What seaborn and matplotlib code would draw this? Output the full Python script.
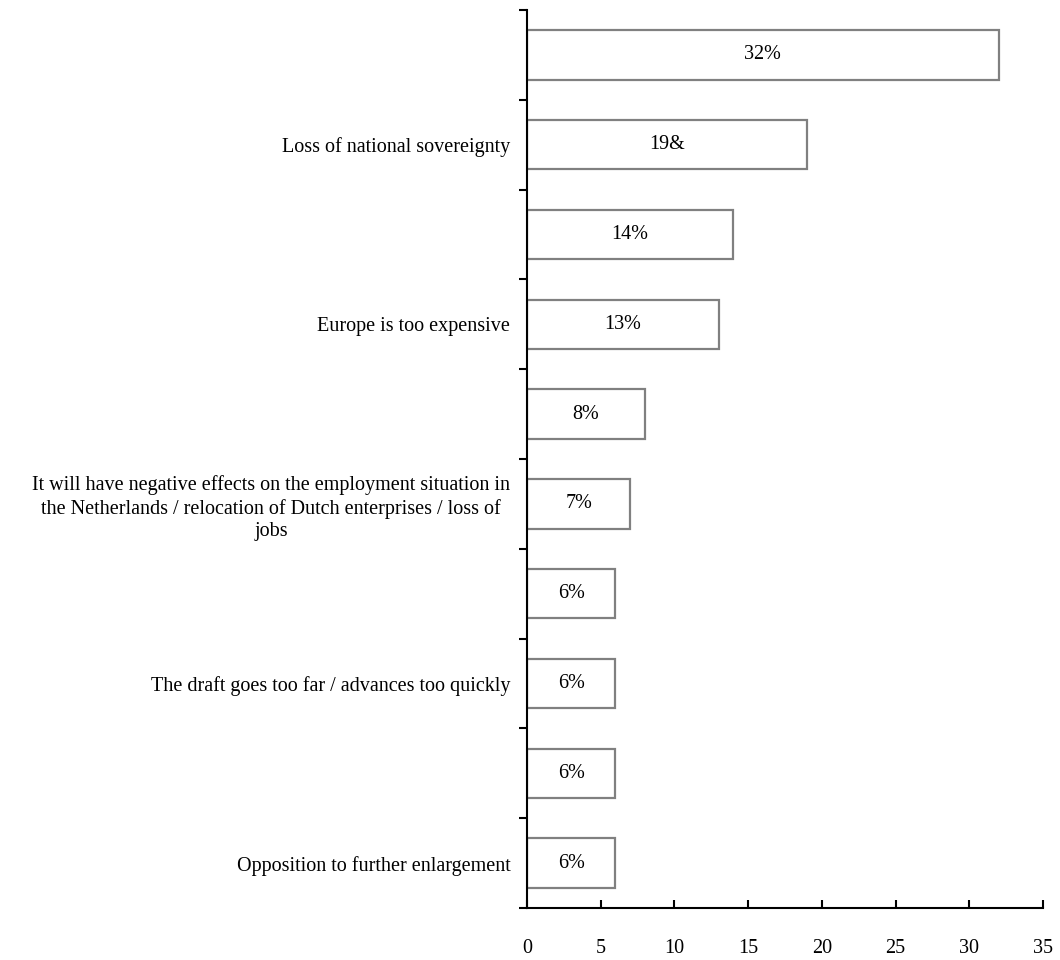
import matplotlib
matplotlib.use("Agg")
import matplotlib.pyplot as plt
import seaborn as sns
import pandas as pd
import numpy as np

# Data
keys = ["r1", "r2", "r3", "r4", "r5", "r6", "r7", "r8", "r9", "r10"]
labels = [
    "",
    "Loss of national sovereignty",
    "",
    "Europe is too expensive",
    "",
    "It will have negative effects on the employment situation in\nthe Netherlands / relocation of Dutch enterprises / loss of\njobs",
    "",
    "The draft goes too far / advances too quickly",
    "",
    "Opposition to further enlargement",
]
values = [32, 19, 14, 13, 8, 7, 6, 6, 6, 6]
value_labels = ["32%", "19&", "14%", "13%", "8%", "7%", "6%", "6%", "6%", "6%"]
xticks = [0, 5, 10, 15, 20, 25, 30, 35]

df = pd.DataFrame({"key": keys, "value": values})

sns.set_style("white")
plt.rcParams["font.family"] = ["Liberation Serif", "DejaVu Serif"]
plt.rcParams["text.color"] = "black"

fig = plt.figure(figsize=(10.6, 9.6), dpi=100)
ax = fig.add_axes([527 / 1060, 1 - 908 / 960, (1043 - 527) / 1060, (908 - 10) / 960])

sns.barplot(data=df, x="value", y="key", orient="h", color="white",
            edgecolor="#808080", linewidth=1.6, width=0.55, ax=ax)

fs = 14.5
for i, (v, t) in enumerate(zip(values, value_labels)):
    ax.text(v / 2, i, t, ha="center", va="center", fontsize=fs, color="black")

ax.set_xlim(0, 35)
ax.set_ylim(len(keys) - 0.5, -0.5)
ax.set_xticks(xticks)
ax.set_xticklabels([str(x) for x in xticks], fontsize=fs, color="black")
ax.tick_params(axis="x", which="major", bottom=True, direction="in", length=6,
               width=1.5, pad=22, colors="black")

ax.set_yticks(range(len(keys)))
ax.set_yticklabels(labels, fontsize=fs, ha="right", multialignment="center",
                   color="black", linespacing=1.25)
ax.tick_params(axis="y", which="major", left=True, length=0, pad=12)
ax.set_yticks(np.arange(-0.5, len(keys), 1.0), minor=True)
ax.tick_params(axis="y", which="minor", left=True, direction="out", length=6,
               width=1.5, color="black")

ax.set_xlabel("")
ax.set_ylabel("")
for s in ["top", "right"]:
    ax.spines[s].set_visible(False)
for s in ["left", "bottom"]:
    ax.spines[s].set_color("black")
    ax.spines[s].set_linewidth(1.5)

fig.savefig("out.png", dpi=100, facecolor="white")
